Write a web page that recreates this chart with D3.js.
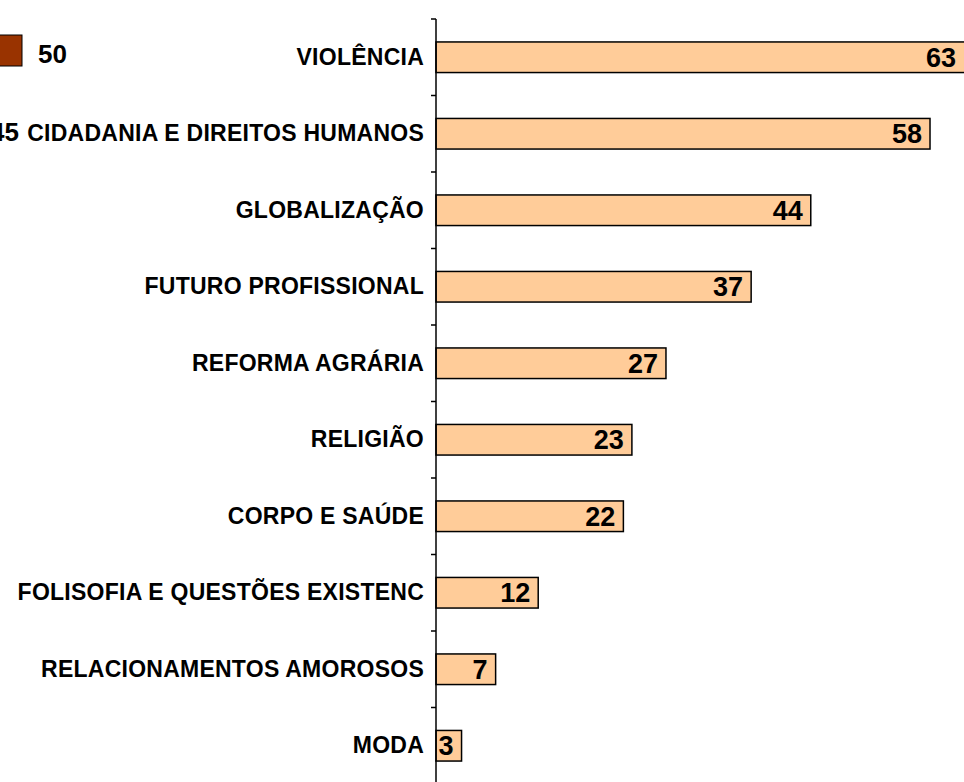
<!doctype html>
<html>
  <head>
    <style>
      body { margin: 0; background: #fff; }
      svg { display: block; font-family: Arial, 'Liberation Sans', sans-serif; }
    </style>
  </head>
  <body>
    <svg id='chart0'></svg>

    <script src='https://d3js.org/d3.v7.min.js'></script>
    <script>
      // categories top to bottom, with their counts
      const categories = [
          'VIOLÊNCIA',
          'CIDADANIA E DIREITOS HUMANOS',
          'GLOBALIZAÇÃO',
          'FUTURO PROFISSIONAL',
          'REFORMA AGRÁRIA',
          'RELIGIÃO',
          'CORPO E SAÚDE',
          'FOLISOFIA E QUESTÕES EXISTENC',
          'RELACIONAMENTOS AMOROSOS',
          'MODA',
      ];
      const values = [63, 58, 44, 37, 27, 23, 22, 12, 7, 3];

      // legend remnant at the left edge (mostly cut off)
      const legend_labels = ['50', '45'];

      const width = 964;
      const height = 782;
      const margin = ({top: 19, left: 436});

      const svg = d3.select('svg#chart0')
                    .attr('width', width)
                    .attr('height', height);

      const y = d3.scaleBand()
                  .domain(categories)
                  .range([margin.top, margin.top + 76.5 * categories.length])
                  .paddingInner(0.6)
                  .paddingOuter(0.3);

      const x = d3.scaleLinear()
                  .domain([0, 63])
                  .range([margin.left, margin.left + 536.6]);

      const data = categories.map((c, i) => ({cat: c, val: values[i]}));

      // bars
      svg.append('g')
         .selectAll('rect')
         .data(data)
         .join('rect')
         .attr('x', x(0))
         .attr('y', d => y(d.cat))
         .attr('width', d => Math.min(x(d.val), width + 2) - x(0))
         .attr('height', y.bandwidth())
         .attr('fill', '#FFCC99')
         .attr('stroke', '#000')
         .attr('stroke-width', 1.5);

      // value labels inside the end of each bar
      svg.append('g')
         .selectAll('text')
         .data(data)
         .join('text')
         .attr('x', d => Math.min(x(d.val), width) - 8)
         .attr('y', d => y(d.cat) + y.bandwidth() / 2)
         .attr('dy', '0.36em')
         .attr('text-anchor', 'end')
         .attr('font-size', 27)
         .attr('font-weight', 'bold')
         .attr('fill', '#000')
         .text(d => d.val);

      // category axis
      const axis = d3.axisLeft(y.copy().paddingInner(0).paddingOuter(0))
                     .tickSize(0)
                     .tickPadding(12);
      const gy = svg.append('g')
                    .attr('transform', `translate(${margin.left},0)`)
                    .call(axis);
      gy.select('.domain')
        .attr('d', `M0,${margin.top}V${height}`)
        .attr('stroke', '#000')
        .attr('stroke-width', 1.5);
      gy.selectAll('.tick text')
        .attr('font-size', 23)
        .attr('font-weight', 'bold')
        .attr('font-family', 'Arial, Liberation Sans, sans-serif')
        .attr('fill', '#000')
        .attr('letter-spacing', 0.25);

      // small tick marks between categories
      const step = y.step();
      const tick_ys = d3.range(categories.length).map(i => margin.top + i * step);
      gy.selectAll('line.sep')
        .data(tick_ys)
        .join('line')
        .attr('class', 'sep')
        .attr('x1', -5)
        .attr('x2', 0)
        .attr('y1', d => d)
        .attr('y2', d => d)
        .attr('stroke', '#000')
        .attr('stroke-width', 1.5);

      // legend remnant
      svg.append('rect')
         .attr('x', -20)
         .attr('y', 35)
         .attr('width', 42)
         .attr('height', 31)
         .attr('fill', '#993300')
         .attr('stroke', '#000')
         .attr('stroke-width', 1);
      svg.append('text')
         .attr('x', 38)
         .attr('y', 63)
         .attr('font-size', 26)
         .attr('font-weight', 'bold')
         .text(legend_labels[0]);
      svg.append('text')
         .attr('x', 19)
         .attr('y', 141)
         .attr('text-anchor', 'end')
         .attr('font-size', 26)
         .attr('font-weight', 'bold')
         .text(legend_labels[1]);
    </script>
  </body>
</html>
